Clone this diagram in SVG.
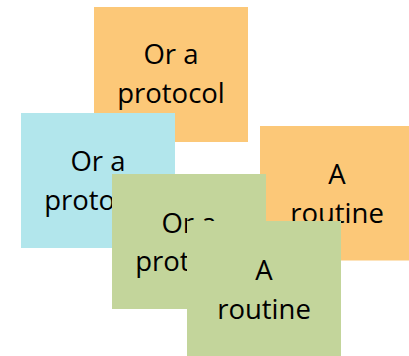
<svg xmlns="http://www.w3.org/2000/svg" width="409" height="356" viewBox="0 0 409 356">
<style>
.note text{font-family:"Open Sans","Noto Sans",sans-serif;font-size:27.5px;fill:#000;text-anchor:middle}
.orange{fill:#FCC878}
.blue{fill:#B2E6EC}
.green{fill:#C3D59B}
</style>
<rect width="409" height="356" fill="#fff"/>
<g id="note1" class="note">
<rect class="orange" x="94" y="7" width="154" height="135"/>
<text x="171" y="64.3">Or a</text>
<text x="171" y="103.3">protocol</text>
</g>
<g id="note2" class="note">
<rect class="blue" x="21" y="113" width="154" height="135"/>
<text x="98" y="171">Or a</text>
<text x="98" y="210">protocol</text>
</g>
<g id="note3" class="note">
<rect class="orange" x="260" y="126" width="154" height="134.5"/>
<text x="337" y="184">A</text>
<text x="337" y="223">routine</text>
</g>
<g id="note4" class="note">
<rect class="green" x="112" y="174" width="154" height="135"/>
<text x="189" y="232.5">Or a</text>
<text x="189" y="271">protocol</text>
</g>
<g id="note5" class="note">
<rect class="green" x="187" y="221" width="154" height="135"/>
<text x="264" y="280">A</text>
<text x="264" y="318.7">routine</text>
</g>
<g id="connectors"/>
</svg>
